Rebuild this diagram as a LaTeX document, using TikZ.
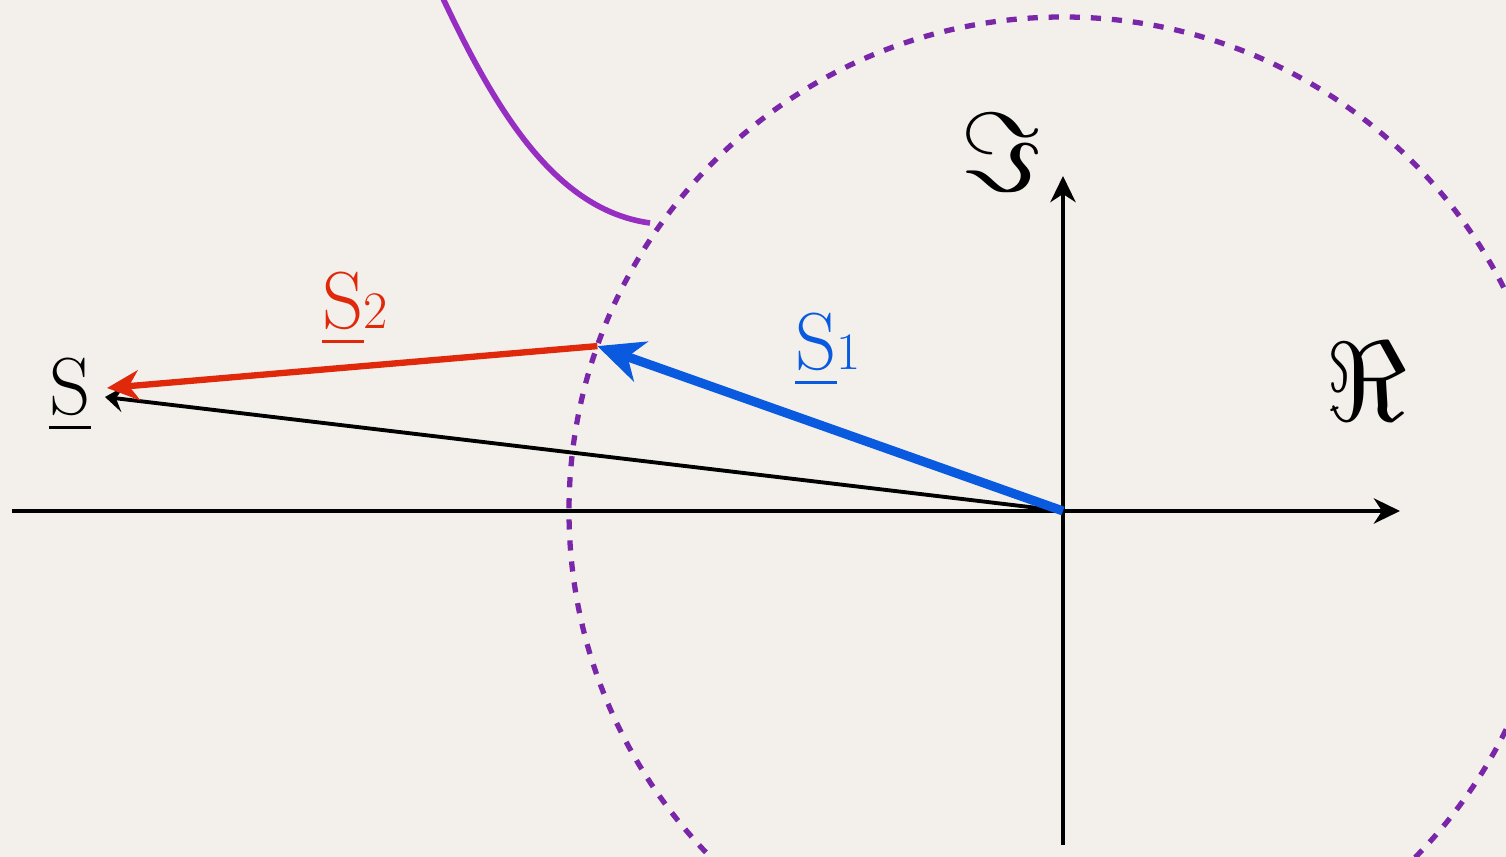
\RequirePackage{fix-cm}
\documentclass[tikz,border=0pt]{standalone}
\usepackage{fontspec}
\usepackage{amsmath,amssymb}
\usepackage{xcolor}
\usetikzlibrary{arrows.meta,positioning,calc}
\definecolor{paper}{HTML}{F3F0EC}
\definecolor{vblue}{HTML}{0A5AE0}
\definecolor{vred}{HTML}{E0280A}
\definecolor{circpurple}{HTML}{7A26A8}
\definecolor{curvepurple}{HTML}{962EC2}
\newcommand{\vlab}[1]{\underline{S}{\fontsize{15}{18}\selectfont #1}}

\begin{document}
\begin{tikzpicture}[
  axis/.style={line width=1.3pt, -{Stealth[length=2.6mm,width=2.5mm,inset=0.8mm]}},
  vecone/.style={vblue, line width=2.6pt, -{Stealth[length=4.6mm,width=4.2mm,inset=1.4mm]}},
  vectwo/.style={vred, line width=1.8pt, -{Stealth[length=3.2mm,width=3mm,inset=1mm]}},
  vecsum/.style={line width=1.1pt, -{Stealth[length=1.8mm,width=2.6mm,inset=0.7mm]}},
  lab/.style={inner sep=0pt, font=\fontsize{23}{28}\selectfont},
  part/.style={inner sep=0pt, font=\fontsize{32}{36}\selectfont}
]
\useasboundingbox (0,0) rectangle (15.06,8.57);
\fill[paper] (0,0) rectangle (15.06,8.57);
\clip (0,0) rectangle (15.06,8.57);

% axes
\coordinate (orig) at (10.63,3.46);
\coordinate (xl) at (0.12,3.46);
\coordinate (xr) at (14.00,3.46);
\coordinate (yb) at (10.63,0.12);
\coordinate (yt) at (10.63,6.81);
\draw[axis] (xl) -- (xr);
\draw[axis] (yb) -- (yt);
\node[part] (re) at (13.66,4.76) {$\Re$};
\node[part] (im) at (10.01,7.05) {$\Im$};

% unit circle and curve
\draw[circpurple, line width=1.5pt, dash pattern=on 2.9pt off 3.1pt] (orig) circle (4.94);
\draw[curvepurple, line width=1.6pt] (4.40,8.65) .. controls (4.95,7.47) and (5.55,6.47) .. (6.50,6.34);

% vectors
\coordinate (s1) at ($(orig)+(160.5:4.94)$);
\coordinate (s2end) at (1.07,4.69);
\coordinate (send) at (1.05,4.60);
\draw[vecsum] (orig) -- (send);
\draw[vectwo] (s1) -- (s2end);
\draw[vecone] (orig) -- (s1);
\node[lab, vblue] (sone) at (8.28,5.07) {\vlab{1}};
\node[lab, vred] (stwo) at (3.55,5.48) {\vlab{2}};
\node[lab] (ssum) at (0.70,4.62) {\underline{S}};
\end{tikzpicture}
\end{document}
